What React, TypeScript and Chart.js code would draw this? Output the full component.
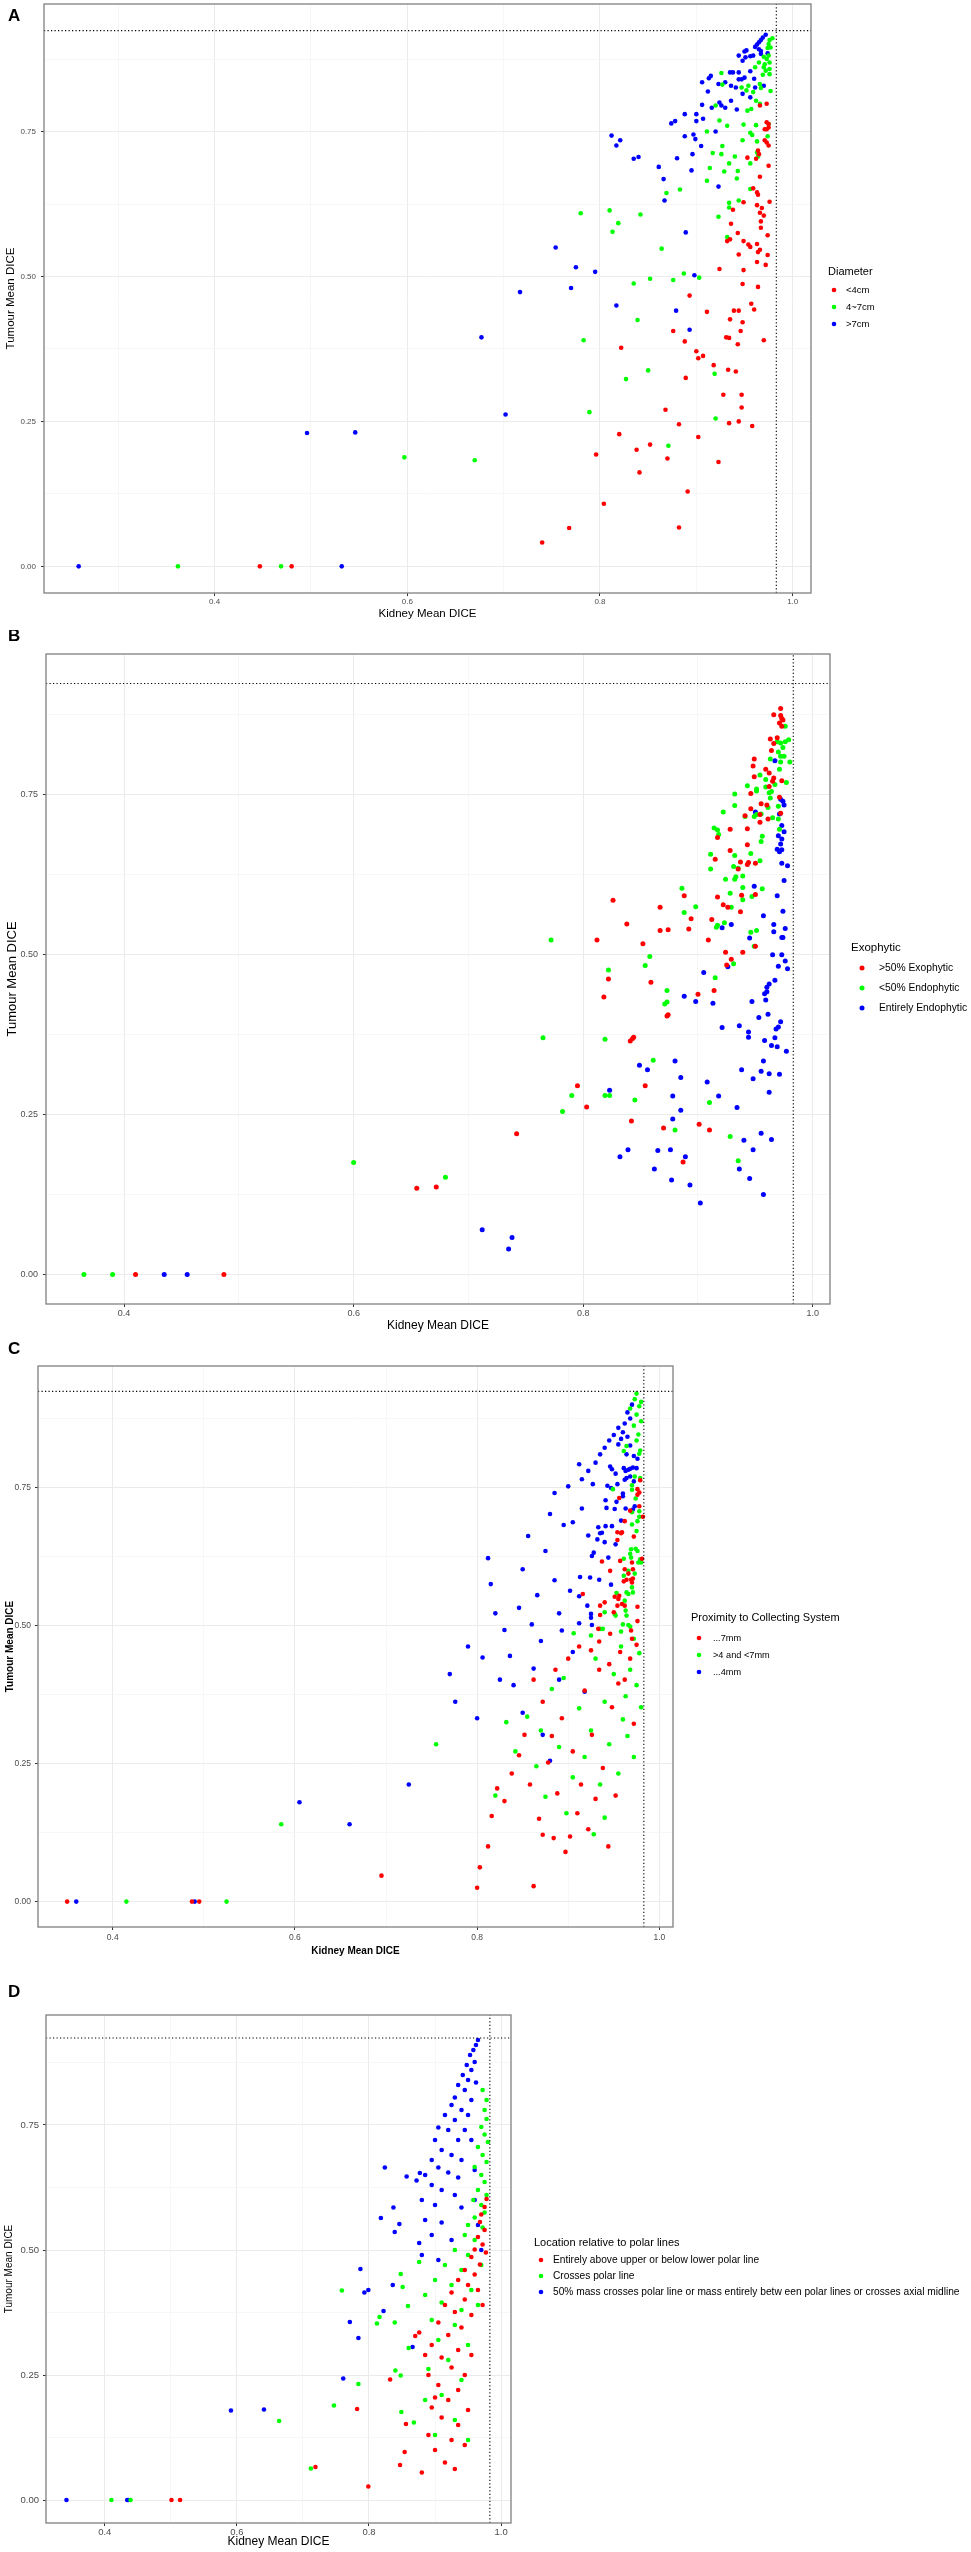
import React, { useEffect, useRef } from 'react';
import { Chart, registerables } from 'chart.js';

Chart.register(...registerables);

const FONT = '"Liberation Sans", Arial, Helvetica, sans-serif';
const RED = '#FF0000';
const GREEN = '#00FF00';
const BLUE = '#0000FF';

const TUMOUR_REF = 0.924;
const KIDNEY_REF = 0.983;
const Y_MIN = -0.046;
const Y_MAX = 0.97;
const Y_MAJOR = [0, 0.25, 0.5, 0.75];
const Y_LABELS = ['0.00', '0.25', '0.50', '0.75'];
const Y_MINOR = [0.125, 0.375, 0.625, 0.875];
const X_MAJOR = [0.4, 0.6, 0.8, 1.0];
const X_LABELS = ['0.4', '0.6', '0.8', '1.0'];
const X_MINOR = [0.3, 0.5, 0.7, 0.9];
const X_TITLE = 'Kidney Mean DICE';
const Y_TITLE = 'Tumour Mean DICE';

// ---------------- Panel A : Diameter ----------------
const A_LT4: number[][] = [
  [0.447, 0], [0.48, 0],
  [0.893, 0.467], [0.876, 0.406], [0.888, 0.388], [0.822, 0.377], [0.9, 0.371], [0.902, 0.359], [0.889, 0.325],
  [0.868, 0.27], [0.882, 0.245], [0.82, 0.228], [0.852, 0.21], [0.838, 0.201], [0.796, 0.193], [0.87, 0.186],
  [0.841, 0.162], [0.891, 0.129], [0.804, 0.108], [0.768, 0.066], [0.74, 0.041], [0.882, 0.067], [0.902, 0.223],
  [0.973, 0.798], [0.966, 0.795], [0.973, 0.766], [0.975, 0.763], [0.971, 0.754], [0.973, 0.754], [0.975, 0.757],
  [0.971, 0.735], [0.973, 0.731], [0.975, 0.726], [0.964, 0.717], [0.965, 0.711], [0.962, 0.703], [0.953, 0.705],
  [0.975, 0.691], [0.966, 0.672], [0.959, 0.652], [0.963, 0.645], [0.964, 0.641], [0.976, 0.629], [0.963, 0.623],
  [0.968, 0.618], [0.966, 0.61], [0.97, 0.605], [0.949, 0.628], [0.938, 0.615], [0.967, 0.595], [0.967, 0.584],
  [0.974, 0.571], [0.936, 0.591], [0.943, 0.575], [0.932, 0.561], [0.935, 0.564], [0.949, 0.561], [0.954, 0.555],
  [0.956, 0.551], [0.963, 0.556], [0.966, 0.546], [0.964, 0.542], [0.974, 0.537], [0.944, 0.538], [0.963, 0.525],
  [0.972, 0.52], [0.924, 0.513], [0.949, 0.511], [0.948, 0.487], [0.964, 0.482], [0.911, 0.439], [0.939, 0.441],
  [0.944, 0.441], [0.935, 0.426], [0.948, 0.421], [0.957, 0.453], [0.96, 0.443], [0.946, 0.406], [0.931, 0.395],
  [0.934, 0.394], [0.943, 0.383], [0.97, 0.39], [0.907, 0.363], [0.918, 0.347], [0.933, 0.339], [0.941, 0.336],
  [0.928, 0.296], [0.947, 0.296], [0.947, 0.274], [0.934, 0.247], [0.944, 0.25], [0.958, 0.242], [0.923, 0.18],
];
const A_4TO7: number[][] = [
  [0.362, 0], [0.469, 0], [0.597, 0.188], [0.67, 0.183],
  [0.78, 0.609], [0.81, 0.614], [0.842, 0.607], [0.819, 0.592], [0.813, 0.577], [0.869, 0.644], [0.883, 0.65],
  [0.864, 0.548], [0.835, 0.488], [0.852, 0.496], [0.876, 0.494], [0.887, 0.505], [0.839, 0.425], [0.783, 0.39],
  [0.827, 0.323], [0.85, 0.338], [0.789, 0.266], [0.871, 0.208], [0.903, 0.498],
  [0.979, 0.911], [0.976, 0.908], [0.975, 0.901], [0.977, 0.895], [0.974, 0.894], [0.97, 0.879], [0.973, 0.875],
  [0.975, 0.881], [0.971, 0.866], [0.976, 0.869], [0.97, 0.861], [0.972, 0.855], [0.976, 0.858], [0.969, 0.848],
  [0.976, 0.849], [0.965, 0.869], [0.961, 0.861], [0.926, 0.851], [0.927, 0.831], [0.947, 0.826], [0.954, 0.829],
  [0.959, 0.818], [0.952, 0.821], [0.966, 0.832], [0.967, 0.825], [0.977, 0.82], [0.962, 0.803], [0.966, 0.798],
  [0.957, 0.789], [0.953, 0.786], [0.92, 0.795], [0.924, 0.769], [0.932, 0.76], [0.911, 0.75], [0.949, 0.762],
  [0.962, 0.761], [0.975, 0.763], [0.956, 0.748], [0.958, 0.744], [0.948, 0.735], [0.963, 0.733], [0.974, 0.742],
  [0.927, 0.725], [0.917, 0.713], [0.926, 0.711], [0.94, 0.707], [0.934, 0.695], [0.963, 0.714], [0.964, 0.707],
  [0.956, 0.695], [0.914, 0.687], [0.929, 0.681], [0.943, 0.682], [0.942, 0.669], [0.911, 0.665], [0.956, 0.651],
  [0.934, 0.627], [0.934, 0.619], [0.944, 0.631], [0.923, 0.603], [0.932, 0.568], [0.919, 0.332], [0.92, 0.255],
];
const A_GT7: number[][] = [
  [0.259, 0], [0.532, 0], [0.496, 0.23], [0.546, 0.231], [0.677, 0.395], [0.702, 0.262], [0.717, 0.473],
  [0.754, 0.55], [0.775, 0.516], [0.795, 0.508], [0.77, 0.48], [0.817, 0.45], [0.812, 0.743], [0.817, 0.726],
  [0.821, 0.735], [0.835, 0.703], [0.84, 0.706], [0.861, 0.689], [0.866, 0.668], [0.867, 0.631], [0.874, 0.764],
  [0.878, 0.768], [0.888, 0.78], [0.9, 0.78], [0.9, 0.768], [0.888, 0.742], [0.897, 0.745], [0.899, 0.737],
  [0.88, 0.704], [0.896, 0.711], [0.895, 0.683], [0.889, 0.576], [0.898, 0.502], [0.879, 0.441], [0.893, 0.408],
  [0.905, 0.725], [0.907, 0.772],
  [0.961, 0.896], [0.963, 0.9], [0.965, 0.904], [0.967, 0.908], [0.969, 0.912], [0.972, 0.917], [0.965, 0.892],
  [0.967, 0.889], [0.952, 0.89], [0.95, 0.888], [0.944, 0.881], [0.948, 0.872], [0.951, 0.878], [0.956, 0.88],
  [0.959, 0.881], [0.974, 0.885], [0.967, 0.884], [0.956, 0.854], [0.935, 0.852], [0.938, 0.852], [0.944, 0.852],
  [0.913, 0.842], [0.915, 0.846], [0.906, 0.835], [0.923, 0.832], [0.93, 0.835], [0.936, 0.829], [0.941, 0.826],
  [0.944, 0.84], [0.947, 0.84], [0.95, 0.843], [0.96, 0.841], [0.961, 0.826], [0.97, 0.829], [0.948, 0.815],
  [0.956, 0.809], [0.912, 0.819], [0.906, 0.796], [0.924, 0.8], [0.926, 0.795], [0.93, 0.791], [0.936, 0.803],
  [0.942, 0.788], [0.916, 0.791], [0.92, 0.75], [0.923, 0.655],
];

// ---------------- Panel B : Exophytic ----------------
const B_EXO: number[][] = [
  [0.41, 0], [0.487, 0], [0.655, 0.135], [0.672, 0.137], [0.742, 0.22], [0.795, 0.295], [0.803, 0.262],
  [0.826, 0.585], [0.812, 0.523], [0.838, 0.548],
  [0.925, 0.484], [0.822, 0.462], [0.859, 0.457], [0.818, 0.434], [0.9, 0.438], [0.914, 0.444], [0.874, 0.406],
  [0.844, 0.371], [0.873, 0.404], [0.841, 0.365], [0.843, 0.369], [0.854, 0.295], [0.842, 0.24], [0.87, 0.229],
  [0.901, 0.235], [0.91, 0.226], [0.887, 0.176],
  [0.972, 0.885], [0.966, 0.875], [0.972, 0.874], [0.973, 0.869], [0.974, 0.867], [0.971, 0.862], [0.973, 0.857],
  [0.963, 0.837], [0.969, 0.839], [0.966, 0.83], [0.964, 0.819], [0.949, 0.806], [0.948, 0.795], [0.959, 0.79],
  [0.962, 0.784], [0.949, 0.778], [0.966, 0.776], [0.965, 0.771], [0.973, 0.772], [0.962, 0.763], [0.946, 0.752],
  [0.955, 0.736], [0.96, 0.734], [0.971, 0.746], [0.946, 0.728], [0.941, 0.717], [0.954, 0.719], [0.954, 0.707],
  [0.961, 0.712], [0.972, 0.721], [0.928, 0.696], [0.917, 0.683], [0.943, 0.697], [0.943, 0.672], [0.928, 0.663],
  [0.915, 0.649], [0.937, 0.645], [0.943, 0.641], [0.944, 0.644], [0.95, 0.643], [0.935, 0.634], [0.888, 0.592],
  [0.917, 0.59], [0.938, 0.593], [0.95, 0.594], [0.867, 0.574], [0.922, 0.578], [0.926, 0.574], [0.937, 0.567],
  [0.894, 0.556], [0.912, 0.555], [0.892, 0.54], [0.867, 0.538], [0.874, 0.539], [0.909, 0.523], [0.852, 0.517],
  [0.95, 0.513], [0.924, 0.504], [0.939, 0.504], [0.929, 0.493],
];
const B_ENDO50: number[][] = [
  [0.365, 0], [0.39, 0], [0.6, 0.175], [0.68, 0.152], [0.772, 0.523], [0.765, 0.37], [0.782, 0.255], [0.79, 0.28],
  [0.854, 0.483], [0.931, 0.486], [0.822, 0.476], [0.915, 0.464], [0.873, 0.444], [0.873, 0.426], [0.819, 0.368],
  [0.871, 0.423], [0.861, 0.335], [0.819, 0.28], [0.823, 0.28], [0.845, 0.273], [0.91, 0.269], [0.88, 0.226],
  [0.928, 0.216], [0.935, 0.178],
  [0.976, 0.857], [0.969, 0.833], [0.972, 0.831], [0.976, 0.833], [0.979, 0.836], [0.974, 0.824], [0.97, 0.817],
  [0.972, 0.81], [0.975, 0.81], [0.98, 0.801], [0.963, 0.806], [0.972, 0.801], [0.971, 0.79], [0.954, 0.781],
  [0.959, 0.774], [0.967, 0.766], [0.977, 0.769], [0.943, 0.764], [0.951, 0.759], [0.951, 0.756], [0.959, 0.762],
  [0.962, 0.753], [0.964, 0.755], [0.932, 0.751], [0.932, 0.733], [0.922, 0.723], [0.963, 0.745], [0.97, 0.732],
  [0.961, 0.73], [0.965, 0.714], [0.97, 0.712], [0.971, 0.696], [0.949, 0.716], [0.951, 0.719], [0.955, 0.72],
  [0.941, 0.716], [0.914, 0.698], [0.917, 0.695], [0.918, 0.688], [0.956, 0.685], [0.955, 0.677], [0.911, 0.657],
  [0.911, 0.634], [0.932, 0.655], [0.946, 0.658], [0.954, 0.647], [0.931, 0.638], [0.935, 0.635], [0.924, 0.618],
  [0.932, 0.618], [0.933, 0.622], [0.939, 0.623], [0.928, 0.596], [0.939, 0.605], [0.939, 0.586], [0.947, 0.591],
  [0.956, 0.603], [0.886, 0.604], [0.888, 0.566], [0.898, 0.575], [0.929, 0.574], [0.916, 0.543], [0.917, 0.546],
  [0.923, 0.55], [0.946, 0.535], [0.951, 0.538], [0.949, 0.513], [0.858, 0.497],
];
const B_ENTIRE: number[][] = [
  [0.435, 0], [0.455, 0], [0.712, 0.07], [0.735, 0.04], [0.738, 0.058],
  [0.97, 0.482], [0.976, 0.49], [0.978, 0.478], [0.926, 0.481], [0.905, 0.472], [0.967, 0.46], [0.962, 0.454],
  [0.96, 0.442], [0.958, 0.439], [0.96, 0.449], [0.888, 0.435], [0.898, 0.427], [0.913, 0.424], [0.947, 0.427],
  [0.959, 0.429], [0.961, 0.407], [0.953, 0.402], [0.972, 0.395], [0.97, 0.387],
  [0.921, 0.386], [0.936, 0.389], [0.944, 0.379], [0.944, 0.371], [0.968, 0.384], [0.958, 0.366], [0.964, 0.358],
  [0.969, 0.356], [0.977, 0.349], [0.967, 0.37],
  [0.88, 0.334], [0.849, 0.327], [0.856, 0.32], [0.957, 0.334], [0.938, 0.32], [0.955, 0.318], [0.962, 0.314],
  [0.971, 0.313], [0.948, 0.306], [0.885, 0.308], [0.908, 0.301], [0.823, 0.288], [0.878, 0.279], [0.918, 0.279],
  [0.962, 0.285], [0.885, 0.257], [0.934, 0.261], [0.878, 0.243], [0.955, 0.221], [0.964, 0.211], [0.94, 0.21],
  [0.839, 0.195], [0.865, 0.194], [0.876, 0.195], [0.948, 0.195], [0.832, 0.184], [0.889, 0.184],
  [0.862, 0.165], [0.877, 0.148], [0.893, 0.14], [0.902, 0.112], [0.936, 0.165], [0.945, 0.15], [0.957, 0.125],
  [0.967, 0.803], [0.95, 0.723], [0.972, 0.743], [0.974, 0.74], [0.975, 0.734], [0.971, 0.72], [0.973, 0.702],
  [0.975, 0.692], [0.97, 0.686], [0.973, 0.681], [0.972, 0.673], [0.969, 0.665], [0.971, 0.661], [0.973, 0.664],
  [0.973, 0.643], [0.978, 0.639], [0.975, 0.616], [0.949, 0.607], [0.969, 0.592], [0.957, 0.561], [0.974, 0.568],
  [0.921, 0.542], [0.929, 0.547], [0.966, 0.547], [0.966, 0.536], [0.976, 0.541], [0.973, 0.527], [0.974, 0.527],
  [0.945, 0.526], [0.965, 0.5], [0.973, 0.5],
];

// ---------------- Panel C : Proximity to collecting system ----------------
const C_GE7: number[][] = [
  [0.35, 0], [0.487, 0], [0.495, 0], [0.695, 0.047],
  [0.8, 0.025], [0.803, 0.062], [0.812, 0.1], [0.816, 0.155], [0.822, 0.205], [0.83, 0.182], [0.838, 0.232],
  [0.846, 0.265], [0.852, 0.302], [0.858, 0.212], [0.862, 0.028], [0.868, 0.15], [0.872, 0.121], [0.878, 0.252],
  [0.884, 0.115], [0.888, 0.196], [0.893, 0.332], [0.897, 0.09], [0.902, 0.118], [0.905, 0.272], [0.91, 0.16],
  [0.914, 0.212], [0.918, 0.382], [0.922, 0.131], [0.926, 0.302], [0.93, 0.186], [0.934, 0.42], [0.938, 0.242],
  [0.944, 0.1], [0.948, 0.352], [0.952, 0.192], [0.957, 0.452], [0.962, 0.402], [0.968, 0.44], [0.972, 0.322],
  [0.975, 0.465], [0.9, 0.44], [0.886, 0.42], [0.872, 0.362], [0.862, 0.402], [0.912, 0.462], [0.925, 0.455],
  [0.945, 0.43], [0.955, 0.395], [0.882, 0.3],
  [0.976, 0.747], [0.978, 0.741], [0.976, 0.737], [0.979, 0.763], [0.956, 0.731], [0.978, 0.716], [0.968, 0.708],
  [0.982, 0.697], [0.962, 0.689], [0.954, 0.669], [0.958, 0.667], [0.959, 0.669], [0.954, 0.655], [0.972, 0.661],
  [0.937, 0.616], [0.957, 0.617], [0.97, 0.614], [0.981, 0.621], [0.946, 0.599], [0.962, 0.602], [0.971, 0.602],
  [0.966, 0.594], [0.964, 0.583], [0.969, 0.583], [0.971, 0.585], [0.97, 0.578], [0.916, 0.557], [0.951, 0.552],
  [0.956, 0.554], [0.955, 0.548], [0.961, 0.58], [0.935, 0.536], [0.94, 0.542], [0.954, 0.536], [0.959, 0.539],
  [0.962, 0.536], [0.976, 0.534], [0.935, 0.519], [0.95, 0.524], [0.976, 0.508], [0.969, 0.491], [0.933, 0.494],
  [0.946, 0.485], [0.97, 0.476], [0.934, 0.471],
];
const C_4TO7: number[][] = [
  [0.415, 0], [0.525, 0], [0.585, 0.14], [0.755, 0.285],
  [0.82, 0.192], [0.832, 0.325], [0.842, 0.272], [0.855, 0.335], [0.865, 0.245], [0.875, 0.19], [0.882, 0.385],
  [0.89, 0.28], [0.898, 0.16], [0.905, 0.225], [0.912, 0.35], [0.918, 0.262], [0.925, 0.31], [0.93, 0.44],
  [0.935, 0.212], [0.94, 0.362], [0.945, 0.285], [0.95, 0.412], [0.955, 0.232], [0.96, 0.33], [0.963, 0.372],
  [0.968, 0.42], [0.972, 0.262], [0.975, 0.392], [0.978, 0.45], [0.94, 0.152], [0.928, 0.122], [0.965, 0.3],
  [0.958, 0.462], [0.98, 0.352], [0.895, 0.405], [0.87, 0.31],
  [0.961, 0.816], [0.964, 0.825], [0.979, 0.817], [0.978, 0.811], [0.973, 0.77], [0.979, 0.767], [0.97, 0.754],
  [0.97, 0.746], [0.949, 0.747], [0.974, 0.73], [0.978, 0.707], [0.97, 0.705], [0.978, 0.697], [0.976, 0.689],
  [0.97, 0.683], [0.975, 0.671], [0.969, 0.638], [0.974, 0.639], [0.976, 0.635], [0.968, 0.63], [0.969, 0.623],
  [0.979, 0.62], [0.977, 0.614], [0.98, 0.614], [0.961, 0.621], [0.966, 0.599], [0.973, 0.594], [0.961, 0.59],
  [0.953, 0.559], [0.97, 0.569], [0.964, 0.56], [0.966, 0.557], [0.971, 0.56], [0.962, 0.545], [0.94, 0.524],
  [0.951, 0.521], [0.952, 0.518], [0.963, 0.527], [0.964, 0.518], [0.96, 0.502], [0.966, 0.501], [0.968, 0.498],
  [0.938, 0.494], [0.935, 0.494], [0.906, 0.486], [0.925, 0.482], [0.958, 0.489], [0.972, 0.476],
  [0.975, 0.92], [0.973, 0.91], [0.978, 0.897], [0.975, 0.882], [0.972, 0.862], [0.977, 0.846], [0.975, 0.835],
  [0.98, 0.87], [0.968, 0.893], [0.98, 0.905],
];
const C_LE4: number[][] = [
  [0.36, 0], [0.49, 0], [0.605, 0.18], [0.66, 0.14], [0.725, 0.212],
  [0.77, 0.412], [0.776, 0.362], [0.79, 0.462], [0.8, 0.332], [0.806, 0.442], [0.812, 0.622], [0.815, 0.575],
  [0.82, 0.522], [0.825, 0.402], [0.83, 0.492], [0.836, 0.445], [0.84, 0.392], [0.846, 0.532], [0.85, 0.602],
  [0.856, 0.662], [0.86, 0.502], [0.866, 0.555], [0.87, 0.472], [0.875, 0.635], [0.88, 0.702], [0.885, 0.582],
  [0.89, 0.522], [0.862, 0.422], [0.85, 0.342], [0.872, 0.302], [0.88, 0.255], [0.89, 0.402], [0.895, 0.682],
  [0.9, 0.752], [0.905, 0.452], [0.918, 0.38], [0.885, 0.74], [0.912, 0.792],
  [0.968, 0.826], [0.964, 0.81], [0.972, 0.807], [0.976, 0.802], [0.946, 0.788], [0.948, 0.783], [0.952, 0.775],
  [0.961, 0.785], [0.966, 0.782], [0.968, 0.784], [0.971, 0.786], [0.975, 0.785], [0.963, 0.78], [0.968, 0.77],
  [0.962, 0.764], [0.964, 0.767], [0.972, 0.761], [0.927, 0.756], [0.943, 0.753], [0.947, 0.749], [0.954, 0.756],
  [0.96, 0.739], [0.96, 0.734], [0.941, 0.727], [0.953, 0.724], [0.915, 0.712], [0.942, 0.713], [0.951, 0.711],
  [0.963, 0.712], [0.971, 0.71], [0.973, 0.716], [0.905, 0.687], [0.958, 0.69], [0.933, 0.678], [0.941, 0.68],
  [0.948, 0.68], [0.935, 0.667], [0.937, 0.668], [0.932, 0.656], [0.94, 0.651], [0.922, 0.663], [0.952, 0.647],
  [0.928, 0.632], [0.926, 0.626], [0.944, 0.623], [0.913, 0.588], [0.924, 0.587], [0.934, 0.583], [0.947, 0.574],
  [0.902, 0.563], [0.912, 0.553], [0.921, 0.536], [0.925, 0.521], [0.925, 0.514], [0.912, 0.504], [0.926, 0.501],
  [0.893, 0.491],
  [0.97, 0.9], [0.965, 0.886], [0.968, 0.875], [0.962, 0.866], [0.955, 0.858], [0.96, 0.85], [0.95, 0.845],
  [0.958, 0.838], [0.945, 0.835], [0.965, 0.842], [0.94, 0.822], [0.955, 0.828], [0.935, 0.81], [0.93, 0.795],
  [0.922, 0.78], [0.915, 0.765],
];

// ---------------- Panel D : Location relative to polar lines ----------------
const D_ABOVE: number[][] = [
  [0.501, 0], [0.514, 0], [0.719, 0.066], [0.782, 0.182], [0.799, 0.027], [0.832, 0.241], [0.856, 0.152],
  [0.854, 0.096], [0.847, 0.07], [0.87, 0.328], [0.876, 0.335],
  [0.978, 0.602], [0.975, 0.586], [0.97, 0.571], [0.968, 0.556], [0.975, 0.54], [0.965, 0.526], [0.972, 0.511],
  [0.96, 0.501], [0.977, 0.495], [0.955, 0.486], [0.968, 0.471], [0.945, 0.46], [0.96, 0.451], [0.935, 0.44],
  [0.95, 0.43], [0.925, 0.415], [0.945, 0.401], [0.915, 0.39], [0.93, 0.376], [0.955, 0.37], [0.905, 0.355],
  [0.94, 0.345], [0.92, 0.33], [0.895, 0.31], [0.935, 0.3], [0.955, 0.29], [0.91, 0.285], [0.925, 0.265],
  [0.89, 0.25], [0.945, 0.25], [0.905, 0.23], [0.935, 0.22], [0.92, 0.2], [0.895, 0.185], [0.95, 0.18],
  [0.91, 0.165], [0.935, 0.15], [0.89, 0.13], [0.925, 0.12], [0.9, 0.1], [0.945, 0.11], [0.915, 0.075],
  [0.88, 0.055], [0.93, 0.062], [0.965, 0.42], [0.972, 0.39], [0.885, 0.29], [0.9, 0.205],
];
const D_CROSSES: number[][] = [
  [0.41, 0], [0.439, 0], [0.664, 0.158], [0.712, 0.063], [0.747, 0.189], [0.784, 0.232], [0.759, 0.419],
  [0.812, 0.353], [0.816, 0.366], [0.839, 0.355], [0.848, 0.452], [0.851, 0.426], [0.859, 0.388], [0.84, 0.259],
  [0.848, 0.249], [0.849, 0.176], [0.868, 0.155], [0.876, 0.476], [0.86, 0.304],
  [0.975, 0.78], [0.978, 0.762], [0.97, 0.746], [0.975, 0.731], [0.98, 0.716], [0.965, 0.706], [0.972, 0.69],
  [0.978, 0.676], [0.96, 0.666], [0.97, 0.65], [0.975, 0.636], [0.965, 0.62], [0.978, 0.61], [0.958, 0.6],
  [0.97, 0.59], [0.975, 0.575], [0.96, 0.565], [0.95, 0.55], [0.972, 0.545], [0.945, 0.53], [0.96, 0.52],
  [0.93, 0.5], [0.95, 0.49], [0.915, 0.47], [0.94, 0.46], [0.97, 0.47], [0.9, 0.44], [0.925, 0.43], [0.955, 0.42],
  [0.885, 0.41], [0.91, 0.395], [0.94, 0.38], [0.965, 0.39], [0.895, 0.36], [0.93, 0.35], [0.905, 0.32],
  [0.95, 0.31], [0.92, 0.28], [0.89, 0.262], [0.94, 0.24], [0.91, 0.21], [0.93, 0.16], [0.9, 0.13], [0.95, 0.12],
  [0.885, 0.2], [0.978, 0.8], [0.972, 0.82],
];
const D_MASS: number[][] = [
  [0.342, 0], [0.434, 0], [0.436, 0], [0.591, 0.179], [0.641, 0.181], [0.761, 0.243], [0.784, 0.324],
  [0.771, 0.356], [0.787, 0.462], [0.793, 0.415], [0.799, 0.42], [0.822, 0.378], [0.818, 0.564], [0.824, 0.665],
  [0.837, 0.585], [0.846, 0.552], [0.839, 0.536], [0.836, 0.43], [0.857, 0.647], [0.872, 0.639], [0.877, 0.654],
  [0.876, 0.514], [0.866, 0.306],
  [0.965, 0.92], [0.962, 0.91], [0.958, 0.9], [0.953, 0.89], [0.96, 0.876], [0.948, 0.87], [0.955, 0.86],
  [0.942, 0.85], [0.95, 0.84], [0.962, 0.835], [0.935, 0.83], [0.945, 0.82], [0.93, 0.805], [0.955, 0.8],
  [0.925, 0.79], [0.94, 0.78], [0.915, 0.77], [0.95, 0.77], [0.93, 0.76], [0.905, 0.745], [0.92, 0.74],
  [0.945, 0.74], [0.9, 0.72], [0.935, 0.72], [0.955, 0.72], [0.91, 0.7], [0.925, 0.69], [0.895, 0.68],
  [0.94, 0.68], [0.905, 0.665], [0.92, 0.655], [0.885, 0.65], [0.935, 0.645], [0.96, 0.66], [0.895, 0.63],
  [0.91, 0.62], [0.93, 0.61], [0.88, 0.6], [0.9, 0.59], [0.94, 0.585], [0.885, 0.56], [0.91, 0.555],
  [0.895, 0.53], [0.925, 0.52], [0.88, 0.49], [0.905, 0.48], [0.96, 0.6], [0.965, 0.55], [0.97, 0.5],
];

const PANELS = [
  {
    letter: 'A', legendTitle: 'Diameter',
    series: [
      { label: '<4cm', color: RED, points: A_LT4 },
      { label: '4~7cm', color: GREEN, points: A_4TO7 },
      { label: '>7cm', color: BLUE, points: A_GT7 },
    ],
    xMin: 0.223, xMax: 1.019,
    box: { canvasTop: 0, canvasH: 630, left: 44, top: 4, right: 811, bottom: 593 },
    xAxisH: 28, tickFont: 8, tickPadX: 1, tickPadY: 5, xTitleFont: 11.5, yTitleFont: 11.5, titleBold: false, yTitlePad: 4,
    letterPos: [8, 16],
    legend: { titleX: 828, titleY: 272, dotX: 834, textX: 846, itemY: [290, 307, 324], titleFont: 11, itemFont: 9.5 },
    pointR: 2.3,
  },
  {
    letter: 'B', legendTitle: 'Exophytic',
    series: [
      { label: '>50% Exophytic', color: RED, points: B_EXO },
      { label: '<50% Endophytic', color: GREEN, points: B_ENDO50 },
      { label: 'Entirely Endophytic', color: BLUE, points: B_ENTIRE },
    ],
    xMin: 0.332, xMax: 1.015,
    box: { canvasTop: 630, canvasH: 705, left: 46, top: 654, right: 830, bottom: 1304 },
    xAxisH: 29, tickFont: 9, tickPadX: 1, tickPadY: 5, xTitleFont: 12, yTitleFont: 13, titleBold: false, yTitlePad: 5,
    letterPos: [8, 636],
    legend: { titleX: 851, titleY: 948, dotX: 862, textX: 879, itemY: [968, 988, 1008], titleFont: 11.5, itemFont: 10.3 },
    pointR: 2.5,
  },
  {
    letter: 'C', legendTitle: 'Proximity to Collecting System',
    series: [
      { label: '...7mm', color: RED, points: C_GE7 },
      { label: '>4 and <7mm', color: GREEN, points: C_4TO7 },
      { label: '...4mm', color: BLUE, points: C_LE4 },
    ],
    xMin: 0.318, xMax: 1.015,
    box: { canvasTop: 1335, canvasH: 625, left: 38, top: 1366, right: 673, bottom: 1927 },
    xAxisH: 30, tickFont: 8.5, tickPadX: 3, tickPadY: 4, xTitleFont: 10, yTitleFont: 10, titleBold: true, yTitlePad: 4,
    letterPos: [8, 1349],
    legend: { titleX: 691, titleY: 1618, dotX: 699, textX: 713, itemY: [1638, 1655, 1672], titleFont: 11, itemFont: 9.2 },
    pointR: 2.3,
  },
  {
    letter: 'D', legendTitle: 'Location relative to polar lines',
    series: [
      { label: 'Entirely above upper or below lower polar line', color: RED, points: D_ABOVE },
      { label: 'Crosses polar line', color: GREEN, points: D_CROSSES },
      { label: '50% mass crosses polar line or mass entirely betw een polar lines or crosses axial midline', color: BLUE, points: D_MASS },
    ],
    xMin: 0.311, xMax: 1.015,
    box: { canvasTop: 1960, canvasH: 592, left: 46, top: 2015, right: 511, bottom: 2523 },
    xAxisH: 26, tickFont: 9.5, tickPadX: 1, tickPadY: 4, xTitleFont: 12, yTitleFont: 10, titleBold: false, yTitlePad: 3,
    letterPos: [8, 1992],
    legend: { titleX: 534, titleY: 2243, dotX: 541, textX: 553, itemY: [2260, 2276, 2292], titleFont: 11, itemFont: 10.2 },
    pointR: 2.3,
  },
];

const near = (v: number, arr: number[]) => arr.some((t) => Math.abs(t - v) < 1e-6);
const labelOf = (v: number, vals: number[], labels: string[]) => {
  const i = vals.findIndex((t) => Math.abs(t - v) < 1e-6);
  return i >= 0 ? labels[i] : '';
};

function buildConfig(p: any) {
  const b = p.box;
  const padTop = b.top - b.canvasTop;
  const padRight = 971 - b.right;
  const padBottom = b.canvasH - (b.bottom - b.canvasTop) - p.xAxisH;
  const xTicks = [...X_MAJOR, ...X_MINOR].filter((v) => v >= p.xMin && v <= p.xMax).sort((a, c) => a - c);
  const yTicks = [...Y_MAJOR, ...Y_MINOR].sort((a, c) => a - c);

  const refLines = [
    {
      type: 'line', label: 'tumour ref',
      data: [{ x: p.xMin, y: TUMOUR_REF }, { x: p.xMax, y: TUMOUR_REF }],
      borderColor: '#000', borderWidth: 1.1, borderDash: [1.2, 2.3], pointRadius: 0, fill: false, showLine: true,
    },
    {
      type: 'line', label: 'kidney ref',
      data: [{ x: KIDNEY_REF, y: Y_MIN }, { x: KIDNEY_REF, y: Y_MAX }],
      borderColor: '#000', borderWidth: 1.1, borderDash: [1.2, 2.3], pointRadius: 0, fill: false, showLine: true,
    },
  ];
  const pointSets = p.series.map((s: any) => ({
    type: 'scatter', label: s.label,
    data: s.points.map(([x, y]: number[]) => ({ x, y })),
    backgroundColor: s.color, borderColor: s.color, borderWidth: 0,
    pointRadius: p.pointR, pointHoverRadius: p.pointR, pointBorderWidth: 0,
  }));

  const gridOpts = (majors: number[]) => ({
    display: true, drawOnChartArea: true, drawTicks: true, tickLength: 3,
    color: (ctx: any) => (ctx.tick && near(ctx.tick.value, majors) ? '#EBEBEB' : '#F3F3F3'),
    lineWidth: (ctx: any) => (ctx.tick && near(ctx.tick.value, majors) ? 1 : 0.7),
    tickColor: (ctx: any) => (ctx.tick && near(ctx.tick.value, majors) ? '#333333' : 'rgba(0,0,0,0)'),
    tickWidth: 1,
  });

  const framePlugin = {
    id: 'frame' + p.letter,
    afterDraw(chart: any) {
      const { ctx, chartArea } = chart;
      ctx.save();
      ctx.strokeStyle = '#808080';
      ctx.lineWidth = 1.3;
      ctx.strokeRect(chartArea.left, chartArea.top, chartArea.right - chartArea.left, chartArea.bottom - chartArea.top);
      ctx.fillStyle = '#000';
      ctx.font = `bold 17px ${FONT}`;
      ctx.textBaseline = 'middle';
      ctx.textAlign = 'left';
      ctx.fillText(p.letter, p.letterPos[0], p.letterPos[1] - b.canvasTop);
      const L = p.legend;
      ctx.font = `${L.titleFont}px ${FONT}`;
      ctx.fillText(p.legendTitle, L.titleX, L.titleY - b.canvasTop);
      ctx.font = `${L.itemFont}px ${FONT}`;
      p.series.forEach((s: any, i: number) => {
        const y = L.itemY[i] - b.canvasTop;
        ctx.beginPath();
        ctx.fillStyle = s.color;
        ctx.arc(L.dotX, y, p.pointR, 0, Math.PI * 2);
        ctx.fill();
        ctx.fillStyle = '#000';
        ctx.fillText(s.label, L.textX, y);
      });
      ctx.restore();
    },
  };

  const weight = p.titleBold ? 'bold' : 'normal';
  return {
    type: 'scatter',
    data: { datasets: [...refLines, ...pointSets] },
    options: {
      animation: false,
      responsive: false,
      maintainAspectRatio: false,
      events: [],
      layout: { padding: { left: 0, top: padTop, right: padRight, bottom: padBottom } },
      plugins: { legend: { display: false }, tooltip: { enabled: false }, title: { display: false } },
      scales: {
        x: {
          type: 'linear', position: 'bottom', min: p.xMin, max: p.xMax,
          afterBuildTicks: (s: any) => { s.ticks = xTicks.map((v) => ({ value: v })); },
          afterFit: (s: any) => { s.height = p.xAxisH; s.paddingLeft = 0; s.paddingRight = 0; },
          ticks: {
            autoSkip: false, maxRotation: 0, minRotation: 0, padding: p.tickPadX, color: '#4D4D4D',
            font: { family: FONT, size: p.tickFont },
            callback: (v: any) => labelOf(Number(v), X_MAJOR, X_LABELS),
          },
          grid: gridOpts(X_MAJOR),
          border: { display: false },
          title: {
            display: true, text: X_TITLE, color: '#000', padding: { top: 0, bottom: 0 },
            font: { family: FONT, size: p.xTitleFont, weight },
          },
        },
        y: {
          type: 'linear', position: 'left', min: Y_MIN, max: Y_MAX,
          afterBuildTicks: (s: any) => { s.ticks = yTicks.map((v) => ({ value: v })); },
          afterFit: (s: any) => { s.width = b.left; s.paddingTop = 0; s.paddingBottom = 0; },
          ticks: {
            autoSkip: false, padding: p.tickPadY, color: '#4D4D4D',
            font: { family: FONT, size: p.tickFont },
            callback: (v: any) => labelOf(Number(v), Y_MAJOR, Y_LABELS),
          },
          grid: gridOpts(Y_MAJOR),
          border: { display: false },
          title: {
            display: true, text: Y_TITLE, color: '#000', padding: { top: p.yTitlePad, bottom: 0 },
            font: { family: FONT, size: p.yTitleFont, weight },
          },
        },
      },
    },
    plugins: [framePlugin],
  };
}

function Panel({ spec }: { spec: any }) {
  const ref = useRef<HTMLCanvasElement>(null);
  useEffect(() => {
    const chart = new Chart(ref.current as HTMLCanvasElement, buildConfig(spec) as any);
    return () => chart.destroy();
  }, [spec]);
  const b = spec.box;
  return (
    <canvas
      ref={ref}
      width={971}
      height={b.canvasH}
      style={{ position: 'absolute', left: 0, top: b.canvasTop, width: 971, height: b.canvasH, display: 'block' }}
    />
  );
}

export default function App() {
  return (
    <div style={{ position: 'relative', width: 971, height: 2552, background: '#fff', overflow: 'hidden' }}>
      <style>{'body{margin:0;background:#fff;}'}</style>
      {PANELS.map((p) => (
        <Panel key={p.letter} spec={p} />
      ))}
    </div>
  );
}
